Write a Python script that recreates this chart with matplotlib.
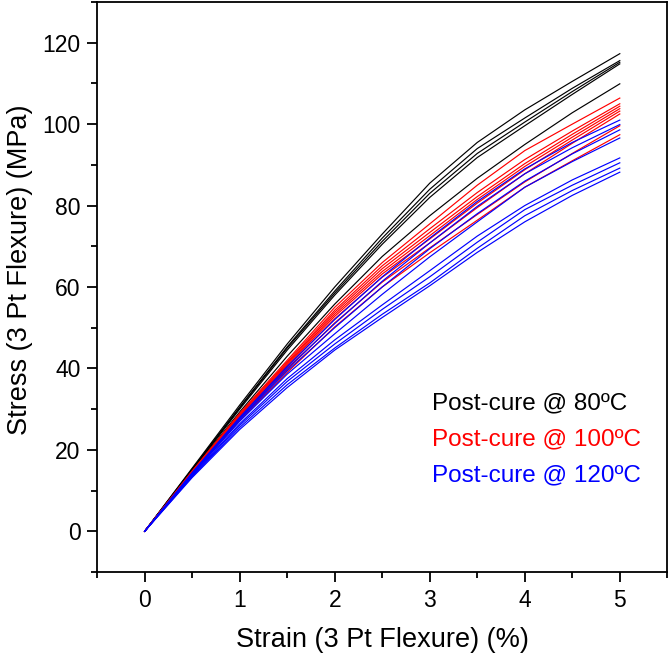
import matplotlib
matplotlib.use("Agg")
import matplotlib.pyplot as plt
from matplotlib.ticker import MultipleLocator

plt.rcParams['font.family'] = ['Liberation Sans', 'DejaVu Sans']

strain = [0, 0.5, 1, 1.5, 2, 2.5, 3, 3.5, 4, 4.5, 5]

black_curves = [
    [0, 15.5, 31.0, 46.0, 60.0, 73.0, 85.5, 95.5, 103.5, 110.5, 117.3],
    [0, 15.3, 30.5, 45.3, 59.0, 72.0, 84.0, 94.0, 101.5, 108.8, 115.6],
    [0, 15.2, 30.3, 45.0, 58.5, 71.2, 83.0, 92.8, 100.5, 108.0, 115.2],
    [0, 15.0, 30.0, 44.5, 58.0, 70.5, 82.0, 91.8, 99.6, 107.3, 114.8],
    [0, 14.8, 29.3, 43.0, 55.8, 67.5, 77.5, 86.7, 95.0, 102.8, 109.9],
]
red_curves = [
    [0, 14.8, 29.0, 42.0, 55.0, 66.0, 75.5, 85.0, 93.5, 100.0, 106.4],
    [0, 14.7, 28.8, 41.6, 54.3, 65.2, 74.3, 83.2, 91.3, 98.3, 105.0],
    [0, 14.6, 28.6, 41.3, 53.8, 64.5, 73.4, 82.2, 90.3, 97.5, 104.4],
    [0, 14.5, 28.4, 41.0, 53.3, 63.8, 72.6, 81.5, 89.6, 96.8, 103.8],
    [0, 14.4, 28.2, 40.7, 52.8, 63.2, 71.8, 80.6, 88.8, 96.1, 103.2],
    [0, 14.3, 28.0, 40.3, 52.2, 62.4, 70.8, 79.5, 87.8, 95.3, 102.5],
    [0, 14.2, 27.6, 39.7, 51.2, 61.2, 69.6, 77.8, 85.8, 92.8, 99.6],
    [0, 14.0, 27.2, 39.0, 50.2, 60.0, 68.4, 76.4, 84.5, 91.0, 97.4],
]
blue_curves = [
    [0, 14.4, 28.0, 40.5, 52.0, 62.5, 72.0, 81.0, 89.0, 95.5, 101.0],
    [0, 14.3, 27.7, 40.0, 51.0, 61.4, 70.8, 79.8, 87.8, 94.2, 99.9],
    [0, 14.2, 27.4, 39.4, 50.0, 60.0, 69.4, 78.0, 86.0, 92.7, 98.6],
    [0, 14.0, 27.0, 38.6, 48.5, 58.2, 67.4, 76.0, 84.5, 90.8, 96.6],
    [0, 13.8, 26.4, 37.5, 47.0, 55.6, 64.0, 72.5, 80.0, 86.3, 91.7],
    [0, 13.6, 26.0, 36.8, 46.0, 54.5, 62.5, 71.0, 79.0, 85.0, 90.5],
    [0, 13.4, 25.5, 36.0, 45.0, 53.3, 61.0, 69.5, 77.5, 83.7, 89.2],
    [0, 13.2, 25.0, 35.3, 44.5, 52.5, 60.3, 68.5, 76.0, 82.5, 88.2],
]

groups = [
    ("Post-cure @ 80ºC", "black", black_curves),
    ("Post-cure @ 100ºC", "#ff0000", red_curves),
    ("Post-cure @ 120ºC", "#0000ff", blue_curves),
]

fig = plt.figure(figsize=(6.70, 6.59), dpi=100)
ax = fig.add_axes([0.145, 0.132, 0.851, 0.865])

for label, color, curves in groups:
    for c in curves:
        ax.plot(strain, c, color=color, lw=0.85)

ax.set_xlim(-0.5, 5.5)
ax.set_ylim(-10, 130)
ax.xaxis.set_major_locator(MultipleLocator(1))
ax.xaxis.set_minor_locator(MultipleLocator(0.5))
ax.yaxis.set_major_locator(MultipleLocator(20))
ax.yaxis.set_minor_locator(MultipleLocator(10))
ax.tick_params(which='both', direction='out', top=False, right=False, width=1.3)
ax.tick_params(which='major', length=7, labelsize=16.5, pad=5)
ax.tick_params(which='minor', length=4)
for s in ax.spines.values():
    s.set_linewidth(1.3)

ax.set_xlabel("Strain (3 Pt Flexure) (%)", fontsize=19.5, va='center')
ax.set_ylabel("Stress (3 Pt Flexure) (MPa)", fontsize=19.5, va='center')
ax.xaxis.set_label_coords(0.5, -0.12)
ax.yaxis.set_label_coords(-0.135, 0.53)

for i, (label, color, curves) in enumerate(groups):
    ax.text(3.02, 31.5 - i * 8.9, label, color=color, fontsize=17.5,
            va='center', ha='left')

fig.savefig("out.png", dpi=100)
